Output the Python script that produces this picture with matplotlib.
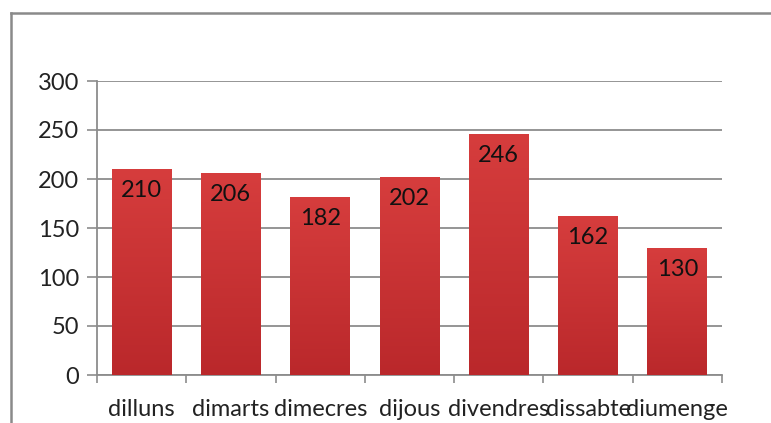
import numpy as np
import matplotlib
matplotlib.use("Agg")
import matplotlib.pyplot as plt
from matplotlib.colors import LinearSegmentedColormap
from matplotlib.lines import Line2D

days = ["dilluns", "dimarts", "dimecres", "dijous", "divendres", "dissabte", "diumenge"]
visits = [210, 206, 182, 202, 246, 162, 130]
y_ticks = [0, 50, 100, 150, 200, 250, 300]

plt.rcParams["font.family"] = ["Lato", "DejaVu Sans"]

fig = plt.figure(figsize=(7.71, 4.23), dpi=100)
ax = fig.add_axes([97 / 771, 1 - 375 / 423, (722 - 97) / 771, (375 - 81) / 423])

x = np.arange(len(days))
bars = ax.bar(x, visits, width=0.67, color="#C83030", zorder=2)

# vertical red gradient inside each bar
grad = LinearSegmentedColormap.from_list("barred", ["#BA282B", "#D63D3D"])
g = np.linspace(0, 1, 256).reshape(-1, 1)
for b in bars:
    x0, w, h = b.get_x(), b.get_width(), b.get_height()
    im = ax.imshow(g, cmap=grad, origin="lower", aspect="auto",
                   extent=(x0, x0 + w, 0, h), zorder=3)
    im.set_clip_path(b)
    b.set_alpha(0)

for xi, v in zip(x, visits):
    ax.text(xi, v - 22, str(v), ha="center", va="center", fontsize=17,
            color="#111111", zorder=4)

ax.set_xlim(-0.5, len(days) - 0.5)
ax.set_ylim(0, 300)
ax.set_yticks(y_ticks)
ax.set_yticklabels([str(t) for t in y_ticks])
ax.tick_params(axis="y", length=7, width=1.2, color="#8C8C8C", pad=6,
               labelsize=17, labelcolor="#222222")
ax.yaxis.grid(True, color="#8C8C8C", linewidth=1.3, zorder=1)
ax.set_axisbelow(True)

ax.set_xticks(x)
ax.set_xticklabels(days)
ax.set_xticks(np.arange(-0.5, len(days)), minor=True)
ax.tick_params(axis="x", which="major", length=0, pad=17, labelsize=17,
               labelcolor="#222222")
ax.tick_params(axis="x", which="minor", length=6, width=1.2, color="#8C8C8C")

for s in ["top", "right"]:
    ax.spines[s].set_visible(False)
for s in ["left", "bottom"]:
    ax.spines[s].set_color("#8C8C8C")
    ax.spines[s].set_linewidth(1.3)

# chart-area frame along the left and top
fig.add_artist(Line2D([11 / 771, 11 / 771], [0, 1 - 13 / 423],
                      color="#8A8A8A", linewidth=1.8, transform=fig.transFigure))
fig.add_artist(Line2D([11 / 771, 1], [1 - 13 / 423, 1 - 13 / 423],
                      color="#8A8A8A", linewidth=1.8, transform=fig.transFigure))

fig.savefig("out.png", dpi=100)
